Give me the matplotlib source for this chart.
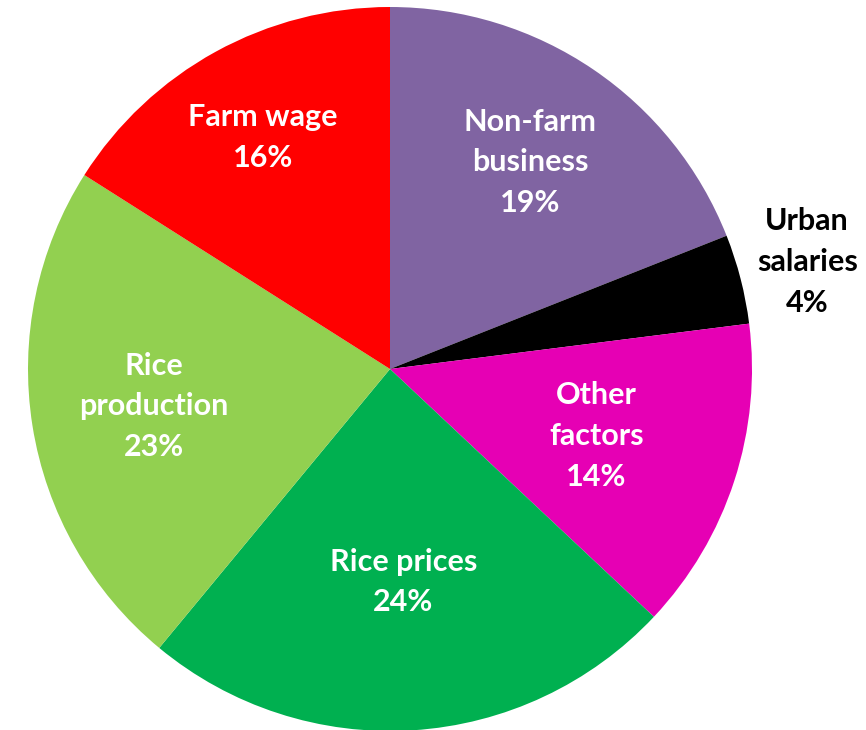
import matplotlib
matplotlib.use("Agg")
import matplotlib.pyplot as plt
import numpy as np

labels = ["Non-farm\nbusiness", "Urban\nsalaries", "Other\nfactors",
          "Rice prices", "Rice\nproduction", "Farm wage"]
shares = [19, 4, 14, 24, 23, 16]
colors = ["#8064A2", "#000000", "#E600B4", "#00B050", "#92D050", "#FF0000"]
text_colors = ["white", "black", "white", "white", "white", "white"]
label_dist = [0.69, 1.19, 0.60, 0.59, 0.66, 0.73]

W, H = 866, 730
fig = plt.figure(figsize=(W / 100, H / 100), dpi=100)
ax = fig.add_axes([0, 0, 1, 1])
cx, cy, r = 390, H - 369, 362

wedges, _ = ax.pie(shares, colors=colors, startangle=90, counterclock=False,
                   center=(cx, cy), radius=r, frame=True,
                   wedgeprops=dict(linewidth=0))

for w, lab, pct, tc, d in zip(wedges, labels, shares, text_colors, label_dist):
    ang = np.deg2rad((w.theta1 + w.theta2) / 2)
    x = cx + d * r * np.cos(ang)
    y = cy + d * r * np.sin(ang)
    ax.text(x, y, f"{lab}\n{pct}%", ha="center", va="center", color=tc,
            fontsize=22, fontweight="bold", family=["Lato", "DejaVu Sans"],
            linespacing=1.55)

ax.set_xlim(0, W)
ax.set_ylim(0, H)
ax.set_aspect("auto")
ax.axis("off")
fig.savefig("out.png", dpi=100)
